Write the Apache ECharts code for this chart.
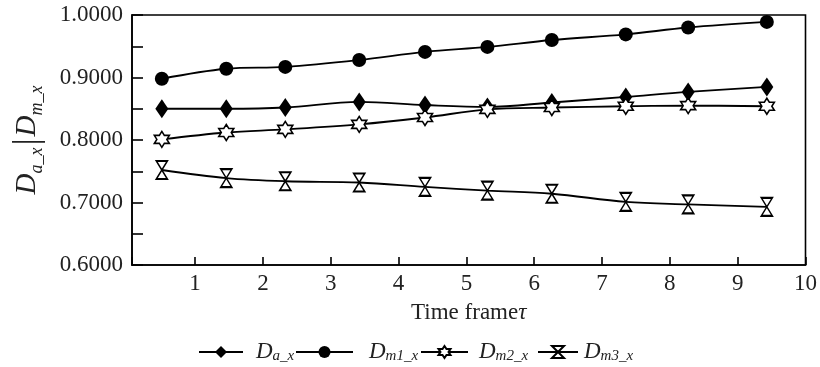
<!DOCTYPE html>
<html>
<head>
<meta charset="utf-8">
<script src="https://cdn.jsdelivr.net/npm/echarts@6/dist/echarts.min.js"></script>
<style>html,body{margin:0;padding:0;background:#fff}#c{width:820px;height:367px}</style>
</head>
<body>
<div id="c"></div>
<script>
const timeFrames = [0.51, 1.46, 2.33, 3.42, 4.39, 5.31, 6.26, 7.35, 8.27, 9.43];
const Da  = [0.850, 0.850, 0.852, 0.861, 0.856, 0.853, 0.860, 0.869, 0.877, 0.885];
const Dm1 = [0.898, 0.914, 0.917, 0.928, 0.941, 0.949, 0.960, 0.969, 0.980, 0.989];
const Dm2 = [0.801, 0.812, 0.817, 0.825, 0.836, 0.849, 0.852, 0.854, 0.855, 0.854];
const Dm3 = [0.752, 0.739, 0.734, 0.732, 0.725, 0.719, 0.714, 0.701, 0.697, 0.693];
const seriesNames = ['Da', 'Dm1', 'Dm2', 'Dm3'];
const legendLabels = ['{d|D}{s|a_x}', '{d|D}{s|m1_x}', '{d|D}{s|m2_x}', '{d|D}{s|m3_x}'];
const xTickLabels = ['1','2','3','4','5','6','7','8','9','10'];
const yTickLabels = ['0.6000','0.7000','0.8000','0.9000','1.0000'];

const FONT = '"Liberation Serif", "DejaVu Serif", serif';
const hexagram = 'path://M0,-10 L2.887,-5 L8.66,-5 L5.77,0 L8.66,5 L2.887,5 L0,10 L-2.887,5 L-8.66,5 L-5.77,0 L-8.66,-5 L-2.887,-5 Z';
const hourglass = 'path://M-6,-9 L6,-9 L0,0 Z M0,0 L6,9 L-6,9 Z';

function pts(arr){ return timeFrames.map((x,i)=>[x, arr[i]]); }

const symbols = {
  Da:  {symbol:'diamond', size:[13,19], fill:'#000'},
  Dm1: {symbol:'circle', size:14, fill:'#000'},
  Dm2: {symbol:hexagram, size:[15,16], fill:'#fff'},
  Dm3: {symbol:hourglass, size:[11,18], fill:'#fff'}
};
const values = {Da, Dm1, Dm2, Dm3};

const series = seriesNames.map(n => ({
  name: n,
  type: 'line',
  data: pts(values[n]),
  smooth: 0.35,
  symbol: symbols[n].symbol,
  symbolSize: symbols[n].size,
  showAllSymbol: true,
  lineStyle: {color:'#000', width:1.8},
  itemStyle: {color: symbols[n].fill, borderColor:'#000', borderWidth: symbols[n].fill === '#fff' ? 1.6 : 0},
  emphasis: {disabled:true},
  z: 2
}));

const richLegend = {
  d: {fontFamily: FONT, fontStyle:'italic', fontSize:23, color:'#222', lineHeight:24, verticalAlign:'top'},
  s: {fontFamily: FONT, fontStyle:'italic', fontSize:15, color:'#222', lineHeight:15, verticalAlign:'bottom', padding:[11,0,0,0]}
};
const legendPos = [
  {left:198, w:44, pad:8},
  {left:295, w:57, pad:11},
  {left:420, w:47, pad:6},
  {left:537, w:40, pad:1}
];
const legends = seriesNames.map((n,i)=>({
  data:[n],
  left: legendPos[i].left,
  top: 338,
  padding: 0,
  itemWidth: legendPos[i].w,
  itemHeight: 15,
  itemGap: 0,
  selectedMode: false,
  formatter: () => legendLabels[i],
  textStyle: {padding:[0,0,0,legendPos[i].pad], rich: richLegend}
}));

const chart = echarts.init(document.getElementById('c'), null, {renderer:'canvas'});
chart.setOption({
  animation: false,
  backgroundColor: '#fff',
  grid: {left:132, top:15, right:13, bottom:102, show:true, borderColor:'#000', borderWidth:1.6, backgroundColor:'transparent'},
  legend: legends,
  xAxis: {
    type:'value', min:0.07, max:10, splitNumber:10,
    axisLine:{show:true, lineStyle:{color:'#000', width:1.6}},
    axisTick:{show:true, inside:true, length:8, lineStyle:{color:'#000', width:1.6}},
    splitLine:{show:false},
    axisLabel:{
      color:'#222', fontFamily:FONT, fontSize:23, margin:7,
      formatter: v => { const k = Math.round(v); return Math.abs(v-k)<1e-6 && k>=1 ? xTickLabels[k-1] : ''; }
    },
    name:'{t|Time frame}{i|τ}', nameLocation:'middle', nameGap:36,
    nameTextStyle:{rich:{
      t:{fontFamily:FONT, fontSize:23, color:'#222'},
      i:{fontFamily:FONT, fontSize:23, fontStyle:'italic', color:'#222'}
    }}
  },
  yAxis: {
    type:'value', min:0.6, max:1.0, interval:0.05,
    axisLine:{show:true, lineStyle:{color:'#000', width:1.6}},
    axisTick:{show:true, inside:true, length:11, lineStyle:{color:'#000', width:1.6}},
    splitLine:{show:false},
    axisLabel:{
      color:'#222', fontFamily:FONT, fontSize:23, margin:9,
      formatter: v => { const k = Math.round(v*100); return k % 10 === 0 ? yTickLabels[(k-60)/10] : ''; }
    },
    name:'{d|D}{s|a_x}{b||}{d|D}{s|m_x}', nameLocation:'middle', nameGap:86, nameRotate:90,
    nameTextStyle:{rich:{
      d:{fontFamily:FONT, fontStyle:'italic', fontSize:29, color:'#222', lineHeight:30, verticalAlign:'top'},
      s:{fontFamily:FONT, fontStyle:'italic', fontSize:18, color:'#222', lineHeight:18, verticalAlign:'bottom', padding:[15,0,0,0]},
      b:{fontFamily:FONT, fontSize:36, color:'#222', lineHeight:33, verticalAlign:'bottom', padding:[0,2,0,2]}
    }}
  },
  series: series
});
</script>
</body>
</html>
